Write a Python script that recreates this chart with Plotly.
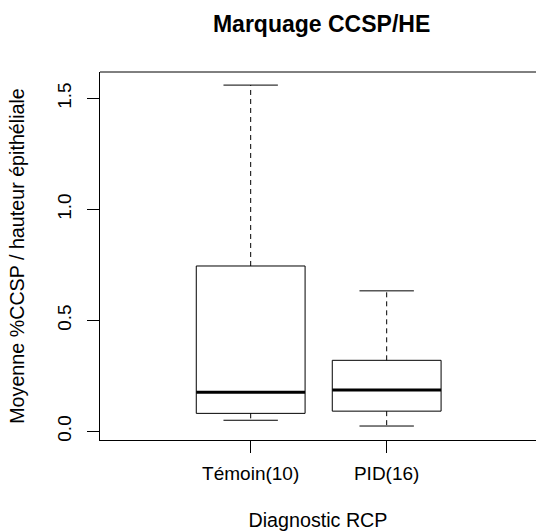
import plotly.graph_objects as go

# Data
categories = ["Témoin(10)", "PID(16)"]
lower_whisker = [0.050, 0.024]
q1 = [0.081, 0.091]
median = [0.176, 0.186]
q3 = [0.745, 0.320]
upper_whisker = [1.560, 0.633]
y_tick_vals = [0.0, 0.5, 1.0, 1.5]
y_tick_text = ["0.0", "0.5", "1.0", "1.5"]

FONT = "Liberation Sans, Arial, Helvetica, sans-serif"
BOX_HALF = 0.4
CAP_HALF = 0.2

fig = go.Figure()
positions = list(range(1, len(categories) + 1))

for i, pos in enumerate(positions):
    # box outline
    fig.add_trace(go.Scatter(
        x=[pos - BOX_HALF, pos + BOX_HALF, pos + BOX_HALF, pos - BOX_HALF, pos - BOX_HALF],
        y=[q1[i], q1[i], q3[i], q3[i], q1[i]],
        mode="lines", line=dict(color="black", width=1),
        fill="toself", fillcolor="white",
        hoverinfo="skip", showlegend=False))
    # median
    fig.add_trace(go.Scatter(
        x=[pos - BOX_HALF, pos + BOX_HALF], y=[median[i], median[i]],
        mode="lines", line=dict(color="black", width=3),
        hoverinfo="skip", showlegend=False))
    # whiskers (dashed)
    fig.add_trace(go.Scatter(
        x=[pos, pos, None, pos, pos],
        y=[q3[i], upper_whisker[i], None, q1[i], lower_whisker[i]],
        mode="lines", line=dict(color="black", width=1, dash="5px,4px"),
        hoverinfo="skip", showlegend=False))
    # caps
    fig.add_trace(go.Scatter(
        x=[pos - CAP_HALF, pos + CAP_HALF, None, pos - CAP_HALF, pos + CAP_HALF],
        y=[upper_whisker[i], upper_whisker[i], None, lower_whisker[i], lower_whisker[i]],
        mode="lines", line=dict(color="black", width=1),
        hoverinfo="skip", showlegend=False))

fig.update_layout(
    width=536, height=531,
    margin=dict(l=100, r=0, t=72, b=91, autoexpand=False),
    paper_bgcolor="white", plot_bgcolor="white",
    font=dict(family=FONT, size=19, color="black"),
    title=dict(text="<b>Marquage CCSP/HE</b>", xref="container", x=0.6, xanchor="center",
               yref="container", y=1 - 24 / 531, yanchor="middle",
               font=dict(family=FONT, size=23, color="black")),
    showlegend=False,
    shapes=[dict(type="line", xref="paper", yref="paper", x0=0, x1=1.05, y0=1, y1=1,
                 line=dict(color="black", width=1))],
)
fig.update_xaxes(
    range=[-0.108, 3.098],
    tickvals=positions, ticktext=categories,
    ticks="outside", ticklen=12, tickcolor="black", ticklabelstandoff=4,
    showline=True, linecolor="black", linewidth=1, mirror=False,
    showgrid=False, zeroline=False, automargin=False,
    title=dict(text="Diagnostic RCP", standoff=33,
               font=dict(family=FONT, size=19.7, color="black")),
)
fig.update_yaxes(
    range=[-0.039, 1.619],
    tickvals=y_tick_vals, ticktext=y_tick_text, tickangle=-90,
    ticks="outside", ticklen=12, tickcolor="black", ticklabelstandoff=8,
    showline=True, linecolor="black", linewidth=1,
    showgrid=False, zeroline=False, automargin=False,
    title=dict(text="Moyenne %CCSP / hauteur épithéliale", standoff=24,
               font=dict(family=FONT, size=19.7, color="black")),
)

fig.write_html(
    "out.html",
    config={"displayModeBar": False},
    post_script="document.body.style.margin='0';document.body.style.overflow='hidden';",
)
